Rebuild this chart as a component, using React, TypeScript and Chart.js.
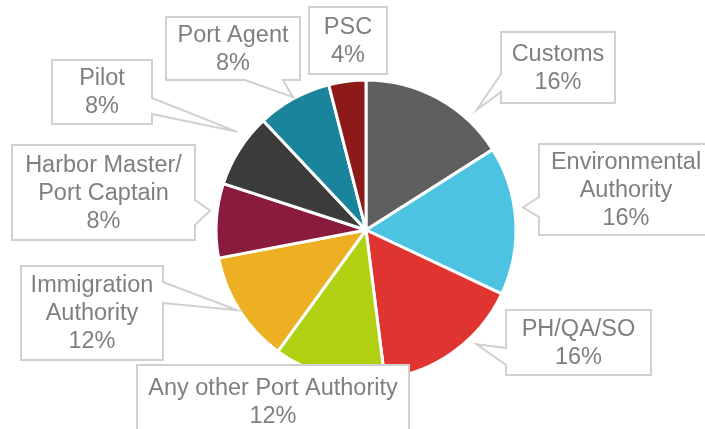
import React, { useEffect, useRef } from "react";
import { Chart, registerables } from "chart.js";

Chart.register(...registerables);

const categories = [
  "Customs",
  "Environmental Authority",
  "PH/QA/SO",
  "Any other Port Authority",
  "Immigration Authority",
  "Harbor Master/Port Captain",
  "Pilot",
  "Port Agent",
  "PSC",
];
const values = [16, 16, 16, 12, 12, 8, 8, 8, 4];
const labelLines = [
  ["Customs"],
  ["Environmental", "Authority"],
  ["PH/QA/SO"],
  ["Any other Port Authority"],
  ["Immigration", "Authority"],
  ["Harbor Master/", "Port Captain"],
  ["Pilot"],
  ["Port Agent"],
  ["PSC"],
];
const colors = [
  "#5f5f5f",
  "#4bc3e1",
  "#e03431",
  "#b1d011",
  "#ecb022",
  "#8b1b3c",
  "#3b3b3b",
  "#1b849d",
  "#8b1a19",
];

// callout layout: box [x0,y0,x1,y1], pointer side, pointer base span, position within slice (fraction), radius ratio
type Callout = { box: number[]; side: string | null; base?: number[]; frac?: number; rr?: number };
const callouts: Callout[] = [
  { box: [501, 32, 615, 103], side: "left", base: [74, 92], frac: 0.74, rr: 1.09 },
  { box: [539, 144, 713, 235], side: "left", base: [197, 217], frac: 0.42, rr: 1.057 },
  { box: [506, 310, 651, 375], side: "left", base: [348, 365], frac: 0.36, rr: 1.06 },
  { box: [137, 365, 409, 438], side: null },
  { box: [21, 266, 163, 360], side: "right", base: [282, 303], frac: 0.51, rr: 1.01 },
  { box: [12, 145, 195, 240], side: "right", base: [200, 225], frac: 0.62, rr: 1.047 },
  { box: [52, 60, 152, 124], side: "right", base: [98, 114], frac: 0.67, rr: 1.08 },
  { box: [166, 17, 300, 80], side: "bottom", base: [245, 283], frac: 0.5, rr: 1.01 },
  { box: [309, 7, 387, 74], side: null },
];

const calloutPlugin = {
  id: "callouts",
  afterDatasetsDraw(chart: any) {
    const ctx = chart.ctx as CanvasRenderingContext2D;
    const meta = chart.getDatasetMeta(0);
    const total = values.reduce((a, b) => a + b, 0);
    ctx.save();
    callouts.forEach((c, i) => {
      const [x0, y0, x1, y1] = c.box;
      const pts: number[][] = [];
      pts.push([x0, y0], [x1, y0]);
      let tip: number[] | null = null;
      if (c.side) {
        const arc = meta.data[i];
        const a = arc.startAngle + (c.frac as number) * (arc.endAngle - arc.startAngle);
        const r = arc.outerRadius * (c.rr as number);
        tip = [arc.x + Math.cos(a) * r, arc.y + Math.sin(a) * r];
      }
      const b = c.base || [0, 0];
      if (c.side === "right" && tip) {
        pts.push([x1, b[0]], tip, [x1, b[1]]);
      }
      pts.push([x1, y1]);
      if (c.side === "bottom" && tip) {
        pts.push([b[1], y1], tip, [b[0], y1]);
      }
      pts.push([x0, y1]);
      if (c.side === "left" && tip) {
        pts.push([x0, b[1]], tip, [x0, b[0]]);
      }
      ctx.beginPath();
      pts.forEach((p, k) => (k === 0 ? ctx.moveTo(p[0], p[1]) : ctx.lineTo(p[0], p[1])));
      ctx.closePath();
      ctx.fillStyle = "#ffffff";
      ctx.fill();
      ctx.lineWidth = 2;
      ctx.strokeStyle = "#d0d0d0";
      ctx.lineJoin = "miter";
      ctx.stroke();

      const lines = [...labelLines[i], Math.round((values[i] / total) * 100) + "%"];
      const lh = 28;
      const cx = (x0 + x1) / 2;
      const cy = (y0 + y1) / 2;
      ctx.fillStyle = "#7f7f7f";
      ctx.font = "23.5px 'Liberation Sans', Arial, sans-serif";
      ctx.textAlign = "center";
      ctx.textBaseline = "middle";
      lines.forEach((t, k) => {
        ctx.fillText(t, cx, cy + (k - (lines.length - 1) / 2) * lh + 1);
      });
    });
    ctx.restore();
  },
};

export default function App() {
  const ref = useRef<HTMLCanvasElement | null>(null);
  useEffect(() => {
    if (!ref.current) return;
    const chart = new Chart(ref.current, {
      type: "pie",
      data: {
        labels: categories,
        datasets: [
          {
            data: values,
            backgroundColor: colors,
            borderColor: "#ffffff",
            borderWidth: 3,
          },
        ],
      },
      options: {
        responsive: false,
        animation: false,
        layout: { padding: { left: 214.5, right: 187.5, top: 78.5, bottom: 47.5 } },
        plugins: {
          legend: { display: false },
          tooltip: { enabled: false },
        },
      },
      plugins: [calloutPlugin],
    });
    return () => chart.destroy();
  }, []);
  return (
    <div style={{ position: "absolute", left: 0, top: 0, width: 705, height: 429, background: "#fff" }}>
      <canvas ref={ref} width={705} height={429} style={{ width: 705, height: 429 }} />
    </div>
  );
}
